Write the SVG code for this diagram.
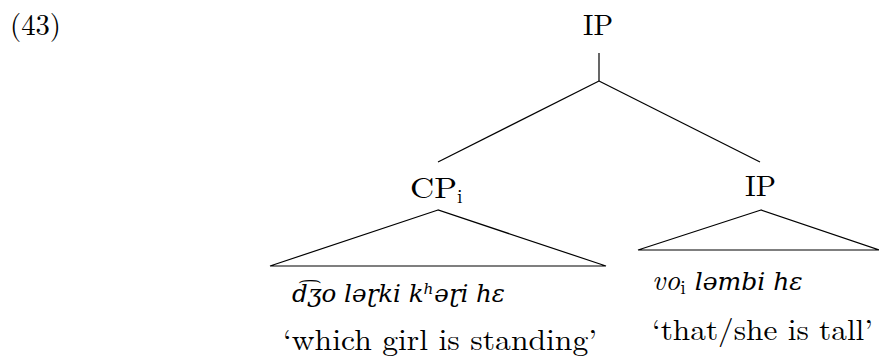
<svg xmlns="http://www.w3.org/2000/svg" width="879" height="360" viewBox="0 0 879 360">
<style>
.t{font-family:"Latin Modern Roman","Liberation Serif","DejaVu Serif",serif;font-size:29px;fill:#000}
.s{font-family:"Latin Modern Roman","Liberation Serif",serif;font-size:20px;fill:#000;font-style:normal}
.ipa{font-family:"DejaVu Serif",serif;font-style:italic;font-size:25px;fill:#000}
.l{stroke:#000;stroke-width:1.2;fill:none}
</style>
<rect width="879" height="360" fill="#fff"/>
<text class="t" x="10" y="35" textLength="51" lengthAdjust="spacingAndGlyphs">(43)</text>
<g id="connectors">
<line class="l" x1="599" y1="53" x2="599" y2="81"/>
<line class="l" x1="599" y1="81" x2="438" y2="162"/>
<line class="l" x1="599" y1="81" x2="760" y2="162"/>
</g>
<g id="ip-top"><text class="t" x="583" y="35" textLength="30" lengthAdjust="spacingAndGlyphs">IP</text></g>
<g id="cp"><text class="t" x="410" y="198" textLength="47" lengthAdjust="spacingAndGlyphs">CP</text><text class="s" x="457" y="203">i</text></g>
<g id="ip-right"><text class="t" x="745" y="196" textLength="31" lengthAdjust="spacingAndGlyphs">IP</text></g>
<g id="cp-tri">
<polygon class="l" points="438,210 270,266 606,266"/>
<text class="ipa" x="292" y="302" textLength="213" lengthAdjust="spacingAndGlyphs">d͡ʒo ləɽki kʰəɽi hɛ</text>
<text class="t" x="283" y="350" textLength="314" lengthAdjust="spacingAndGlyphs">‘which girl is standing’</text>
</g>
<g id="ip-tri">
<polygon class="l" points="761,210 638,250 879,250"/>
<text class="ipa" x="652" y="290"><tspan style="font-family:'Latin Modern Roman','Liberation Serif',serif;font-size:29px">vo</tspan><tspan class="s" dy="4">i</tspan><tspan dy="-4" dx="9">ləmbi hɛ</tspan></text>
<text class="t" x="652" y="340" textLength="221" lengthAdjust="spacingAndGlyphs">‘that/she is tall’</text>
</g>
</svg>
